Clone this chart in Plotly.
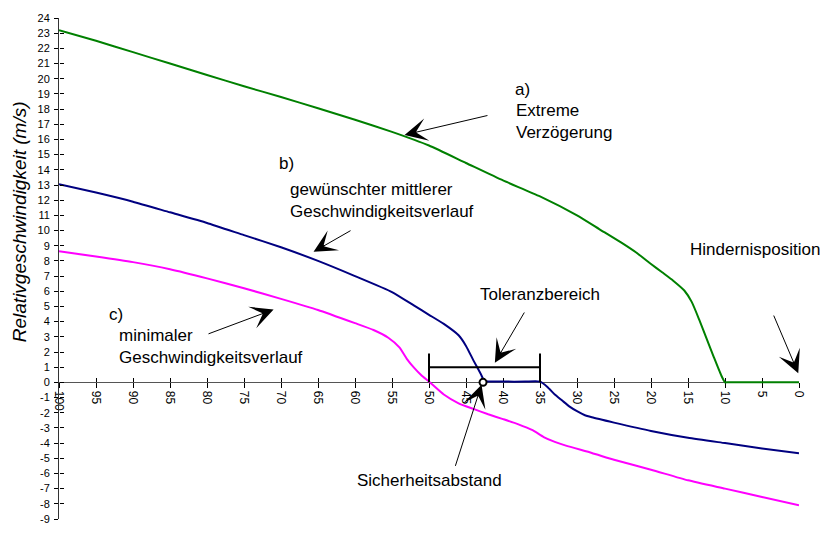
import plotly.graph_objects as go

# ---------------- data ----------------
dist_a = [100, 95, 90, 85, 80, 75, 70, 65, 60, 55, 50, 45, 40, 35, 30, 27, 24, 22, 20,
          18.5, 17, 15.5, 14.5, 13.5, 12.5, 11.5, 10.5, 10, 9.8, 5, 0]
speed_a = [23.2, 22.5, 21.75, 21.0, 20.25, 19.5, 18.8, 18.05, 17.3, 16.5, 15.6, 14.45, 13.3,
           12.25, 11.0, 10.1, 9.2, 8.55, 7.8, 7.25, 6.7, 6.05, 5.3, 4.15, 2.9, 1.65, 0.45, 0, 0,
           0, 0]

dist_b = [100, 95, 90, 85, 80, 75, 70, 65, 60, 55, 52, 50, 48, 46, 45, 44, 43, 42.5, 40, 37,
          35, 34, 33, 32, 31, 30, 29, 28, 25, 20, 15, 10, 5, 0]
speed_b = [13.05, 12.5, 11.9, 11.2, 10.5, 9.7, 8.9, 8.0, 7.0, 5.95, 5.05, 4.45, 3.85, 3.1, 2.4,
           1.45, 0.55, 0.1, 0.05, 0.05, 0.05, -0.3, -0.8, -1.2, -1.6, -1.9, -2.15, -2.3, -2.65,
           -3.2, -3.65, -4.0, -4.35, -4.67]

dist_c = [100, 95, 90, 85, 80, 75, 70, 65, 60, 57.5, 55.5, 54, 53, 52, 51, 50, 48, 46,
          44, 42, 40, 38, 36, 34.5, 33, 31.5, 28, 25, 20, 15, 10, 5, 0]
speed_c = [8.63, 8.29, 7.92, 7.45, 6.85, 6.2, 5.5, 4.77, 3.9, 3.45, 2.94, 2.3, 1.55,
           0.95, 0.45, 0.05, -0.8, -1.38, -1.75, -2.1, -2.42, -2.75, -3.15, -3.6, -3.92, -4.17,
           -4.65, -5.1, -5.75, -6.45, -7.0, -7.55, -8.1]

tolerance_range = [50, 35]      # Toleranzbereich (m)
tolerance_level = 1.0           # height of the bar (m/s)
tolerance_cap = [0, 1.9]        # end caps (m/s)
safety_dist = [42.7]            # Sicherheitsabstand
safety_speed = [0]

x_ticks = list(range(0, 101, 5))
x_ticktext = [str(v) for v in x_ticks]
y_ticks = list(range(-9, 25))
y_ticktext = [str(v) for v in y_ticks]

X_RANGE = [100, 0]
Y_RANGE = [-9, 24]

FONT = "Arial, 'Liberation Sans', sans-serif"

fig = go.Figure()

fig.add_trace(go.Scatter(x=dist_a, y=speed_a, mode="lines",
                         line=dict(color="#008000", width=2, shape="spline", smoothing=0.5),
                         showlegend=False))
fig.add_trace(go.Scatter(x=dist_b, y=speed_b, mode="lines",
                         line=dict(color="#000080", width=2, shape="spline", smoothing=0.5),
                         showlegend=False))
fig.add_trace(go.Scatter(x=dist_c, y=speed_c, mode="lines",
                         line=dict(color="#FF00FF", width=2, shape="spline", smoothing=0.5),
                         showlegend=False))

# tolerance bar
tx = [tolerance_range[0], tolerance_range[0], None,
      tolerance_range[0], tolerance_range[1], None,
      tolerance_range[1], tolerance_range[1]]
ty = [tolerance_cap[0], tolerance_cap[1], None,
      tolerance_level, tolerance_level, None,
      tolerance_cap[0], tolerance_cap[1]]
fig.add_trace(go.Scatter(x=tx, y=ty, mode="lines", line=dict(color="black", width=2),
                         showlegend=False))

# safety point
fig.add_trace(go.Scatter(x=safety_dist, y=safety_speed, mode="markers",
                         marker=dict(symbol="circle", size=7, color="white",
                                     line=dict(color="black", width=2)),
                         showlegend=False))

# dummy trace for overlay axes (crossing ticks)
fig.add_trace(go.Scatter(x=[None], y=[None], xaxis="x2", yaxis="y2", showlegend=False))

zero_pos = (0 - Y_RANGE[0]) / (Y_RANGE[1] - Y_RANGE[0])

fig.update_layout(
    width=827, height=552,
    margin=dict(l=59, r=28, t=16, b=33),
    paper_bgcolor="white", plot_bgcolor="white",
    font=dict(family=FONT, color="black"),
    xaxis=dict(range=X_RANGE, anchor="free", position=zero_pos,
               showgrid=False, zeroline=False, showline=True, linecolor="#555", linewidth=1,
               ticks="outside", ticklen=5, tickcolor="black", tickwidth=1,
               tickvals=x_ticks, ticktext=x_ticktext, tickangle=90,
               tickfont=dict(size=12, family=FONT), layer="below traces"),
    xaxis2=dict(range=X_RANGE, overlaying="x", anchor="free", position=zero_pos,
                showgrid=False, zeroline=False, showline=False,
                ticks="inside", ticklen=4, tickcolor="black", tickwidth=1,
                tickvals=x_ticks, showticklabels=False, layer="below traces"),
    yaxis=dict(range=Y_RANGE, showgrid=False, zeroline=False, showline=True,
               linecolor="#333", linewidth=1,
               ticks="outside", ticklen=4, tickcolor="black", tickwidth=1,
               tickvals=y_ticks, ticktext=y_ticktext,
               tickfont=dict(size=11, family=FONT), ticklabelstandoff=2),
    yaxis2=dict(range=Y_RANGE, overlaying="y", anchor="free", position=0,
                showgrid=False, zeroline=False, showline=False,
                ticks="inside", ticklen=4, tickcolor="black", tickwidth=1,
                tickvals=y_ticks, showticklabels=False),
)


def label(text, x, y, size=17, anchor="left"):
    fig.add_annotation(x=x, y=y, xref="x", yref="y", text=text, showarrow=False,
                       xanchor=anchor, yanchor="middle", align="left",
                       font=dict(size=size, family=FONT, color="black"))


label("a)", 38.7, 19.26)
label("Extreme<br>Verzögerung", 38.5, 17.19)
label("b)", 70.6, 14.4)
label("gewünschter mittlerer<br>Geschwindigkeitsverlauf", 69.1, 12.0)
label("c)", 93.5, 4.5)
label("minimaler<br>Geschwindigkeitsverlauf", 92.1, 2.35)
label("Hindernisposition", 15.0, 8.76)
label("Toleranzbereich", 43.4, 5.8)
label("Sicherheitsabstand", 60.0, -6.46)


def arrow(x_tip, y_tip, x_tail, y_tail):
    fig.add_annotation(x=x_tip, y=y_tip, ax=x_tail, ay=y_tail, xref="x", yref="y",
                       axref="x", ayref="y", text="", showarrow=True,
                       arrowhead=3, arrowsize=3.8, arrowwidth=1, arrowcolor="black",
                       standoff=0)


arrow(53.3, 16.3, 41.9, 17.6)
arrow(65.6, 8.6, 60.4, 10.05)
arrow(71.0, 4.8, 80.0, 3.16)
arrow(41.1, 1.3, 37.0, 4.7)
arrow(0.1, 0.6, 3.5, 4.5)
arrow(42.9, -0.15, 46.5, -5.6)

# axis titles
fig.add_annotation(x=49, y=-10.45, xref="x", yref="y", text="<i>Distanz (m)</i>",
                   showarrow=False, xanchor="center", yanchor="middle",
                   font=dict(size=16, family=FONT, color="black"))
fig.add_annotation(x=-0.053, y=10.6, xref="paper", yref="y",
                   text="<i>Relativgeschwindigkeit (m/s)</i>", textangle=-90,
                   showarrow=False, xanchor="center", yanchor="middle",
                   font=dict(size=19, family=FONT, color="black"))

fig.write_html("out.html", config={"displayModeBar": False},
               post_script="document.body.style.margin='0';")
